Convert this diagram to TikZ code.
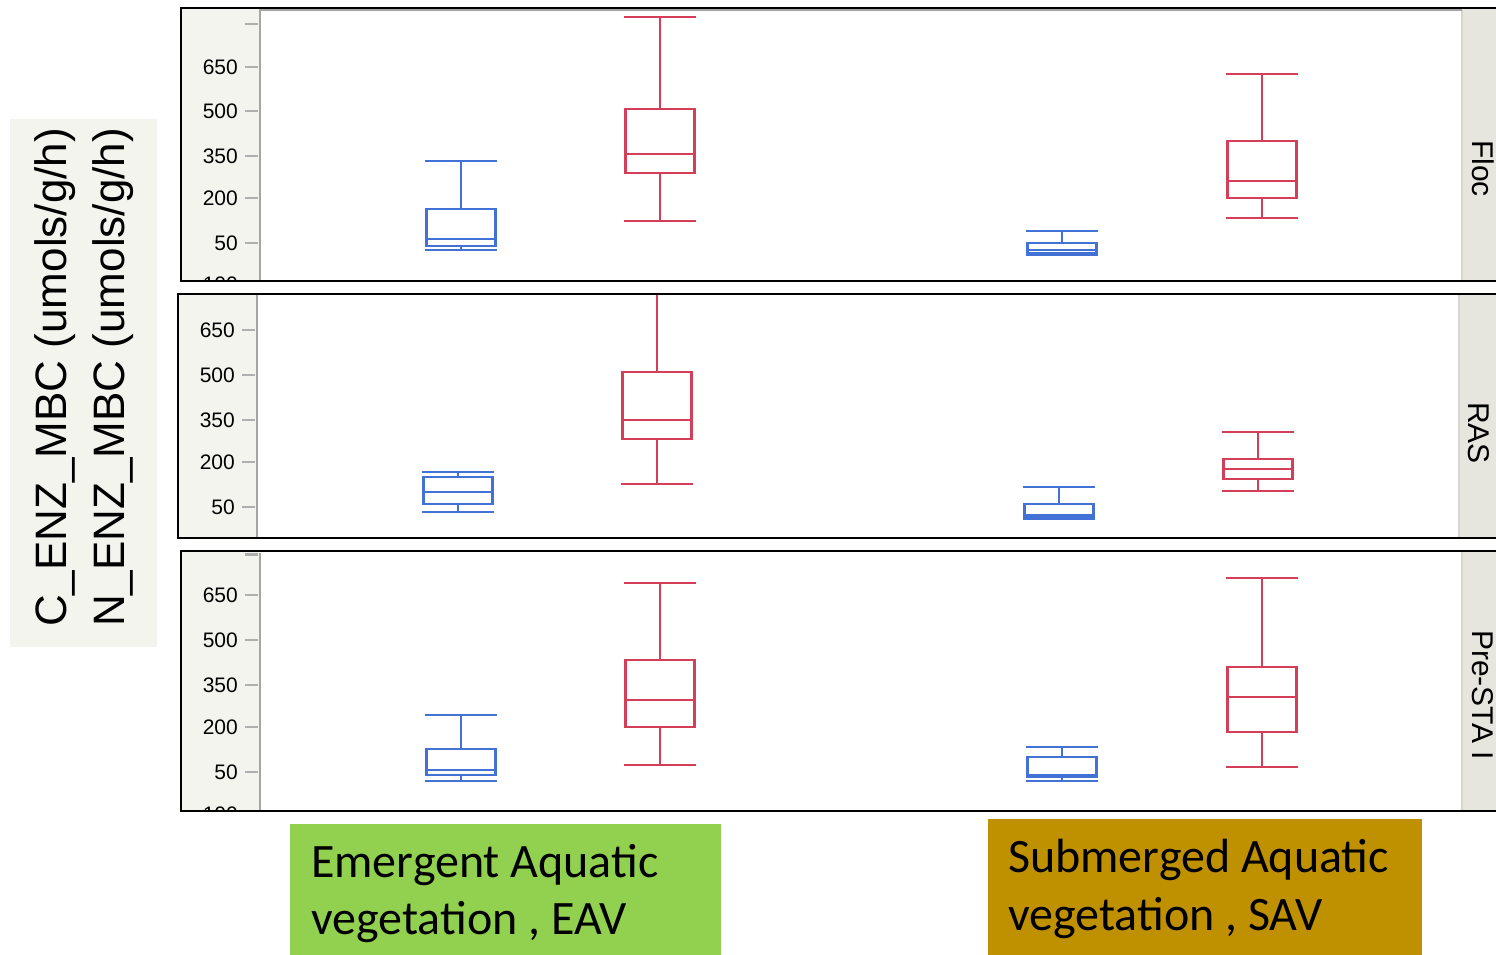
\documentclass[tikz,border=0pt]{standalone}
\usepackage{fontspec}
\setmainfont{Liberation Sans}
\newfontfamily\calfont{Carlito}
\definecolor{bxblue}{RGB}{66,114,214}
\definecolor{bxred}{RGB}{212,62,88}
\definecolor{axbg}{RGB}{244,244,239}
\definecolor{stripbg}{RGB}{230,230,222}
\definecolor{stripedge}{RGB}{214,214,204}
\definecolor{framegray}{RGB}{165,165,165}
\definecolor{tickgray}{RGB}{175,175,175}
\definecolor{eavgreen}{RGB}{146,208,80}
\definecolor{savgold}{RGB}{191,144,0}
% box plot: style, xc, top cap, q3, median, q1, bottom cap
\newcommand\bxp[7]{%
  \draw[#1] (#2-34.5,#3) -- (#2+34.5,#3) (#2,#3) -- (#2,#4)
    (#2-34.5,#4) rectangle (#2+34.5,#6)
    (#2-34.5,#5) -- (#2+34.5,#5)
    (#2,#6) -- (#2,#7) (#2-34.5,#7) -- (#2+34.5,#7);}
\begin{document}
\begin{tikzpicture}[x=1pt,y=-1pt,
  panelframe/.style={draw=black,line width=2pt},
  plotframe/.style={draw=framegray,line width=1.6pt},
  tickmark/.style={draw=tickgray,line width=2pt},
  ticklab/.style={anchor=east,inner sep=0pt,font=\fontsize{21}{24}\selectfont},
  striplab/.style={rotate=-90,anchor=base west,inner sep=0pt,font=\fontsize{30}{36}\selectfont},
  ylab/.style={rotate=90,anchor=base west,inner sep=0pt,font=\fontsize{44}{50}\selectfont},
  bottomlab/.style={anchor=base west,inner sep=0pt,font=\calfont\fontsize{48}{56}\selectfont},
  bluebox/.style={draw=bxblue,line width=2.5pt,line cap=rect},
  redbox/.style={draw=bxred,line width=2.5pt,line cap=rect}]
\useasboundingbox (0,0) rectangle (1496,954);
\fill[white] (0,0) rectangle (1496,954);

% y-axis title
\fill[axbg] (10,119) rectangle (157,647);
\node[ylab] (yt1) at (66,627) {C\_ENZ\_MBC (umols/g/h)};
\node[ylab] (yt2) at (124,627) {N\_ENZ\_MBC (umols/g/h)};

% ---------- panel 1: Floc ----------
\fill[axbg] (181,8) rectangle (260,281);
\fill[stripbg] (1462,8) rectangle (1510,281);
\draw[stripedge,line width=1.5pt] (1462,10) -- (1462,281);
\draw[plotframe] (260,281) -- (260,10) -- (1462,10);
\foreach \yy/\lab in {67/650,111/500,156/350,198/200,243/50}{
  \draw[tickmark] (245,\yy) -- (258,\yy);
  \node[ticklab] at (238,\yy) {\lab};}
\draw[tickmark] (245,24) -- (258,24);
\begin{scope}
  \clip (181,8) rectangle (260,281);
  \node[ticklab] at (238,284.5) {-100};
\end{scope}
\bxp{bluebox}{461}{161}{209}{239}{246}{250}
\bxp{redbox}{660}{17}{109}{154}{173}{221}
\bxp{bluebox}{1062}{231}{243}{250}{253}{255}
\bxp{redbox}{1262}{74}{141}{181}{198}{218}
\node[striplab] (s1) at (1472,140) {Floc};
\draw[panelframe] (181,8) rectangle (1510,281);

% ---------- panel 2: RAS ----------
\fill[axbg] (178,294) rectangle (257,538);
\fill[stripbg] (1459,294) rectangle (1510,538);
\draw[stripedge,line width=1.5pt] (1459,294) -- (1459,538);
\draw[plotframe] (257,294) -- (257,538);
\foreach \yy/\lab in {330/650,375/500,420/350,462/200,507/50}{
  \draw[tickmark] (242,\yy) -- (255,\yy);
  \node[ticklab] at (235,\yy) {\lab};}
\begin{scope}
  \clip (257,294) rectangle (1459,538);
  \bxp{bluebox}{458}{472}{477}{492}{504}{512}
  \bxp{redbox}{657}{280}{372}{420}{439}{484}
  \bxp{bluebox}{1059}{487}{504}{515}{517}{519}
  \bxp{redbox}{1258}{432}{459}{469}{479}{491}
\end{scope}
\node[striplab] (s2) at (1468,402) {RAS};
\draw[panelframe] (178,294) rectangle (1510,538);

% ---------- panel 3: Pre-STA I ----------
\fill[axbg] (181,551) rectangle (260,811);
\fill[stripbg] (1462,551) rectangle (1510,811);
\draw[stripedge,line width=1.5pt] (1462,551) -- (1462,811);
\draw[plotframe] (260,553) -- (260,811);
\foreach \yy/\lab in {595/650,640/500,685/350,727/200,772/50}{
  \draw[tickmark] (245,\yy) -- (258,\yy);
  \node[ticklab] at (238,\yy) {\lab};}
\draw[tickmark,line width=3pt] (245,554) -- (258,554);
\begin{scope}
  \clip (181,551) rectangle (260,811);
  \node[ticklab] at (238,814.5) {-100};
\end{scope}
\bxp{bluebox}{461}{715}{749}{770}{775}{781}
\bxp{redbox}{660}{583}{660}{700}{727}{765}
\bxp{bluebox}{1062}{747}{757}{775}{777}{781}
\bxp{redbox}{1262}{578}{667}{697}{732}{767}
\node[striplab] (s3) at (1472,630) {Pre-STA I};
\draw[panelframe] (181,551) rectangle (1510,811);

% ---------- bottom labels ----------
\fill[eavgreen] (290,824) rectangle (721,960);
\node[bottomlab] (e1) at (311,877) {Emergent Aquatic};
\node[bottomlab] (e2) at (311,934) {vegetation , EAV};
\fill[savgold] (988,819) rectangle (1422,960);
\node[bottomlab] (v1) at (1008,872) {Submerged Aquatic};
\node[bottomlab] (v2) at (1008,930) {vegetation , SAV};
\end{tikzpicture}
\end{document}
